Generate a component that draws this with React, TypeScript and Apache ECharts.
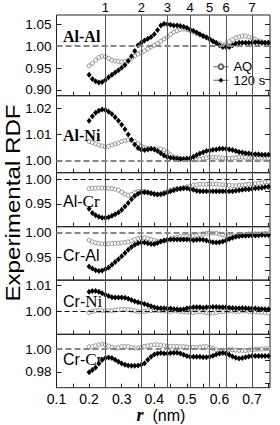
import React, { useEffect, useRef } from "react";
import * as echarts from "echarts";

// r values (nm)
const rNm = [
  0.20, 0.21, 0.22, 0.23, 0.24, 0.25, 0.26, 0.27, 0.28, 0.29,
  0.30, 0.31, 0.32, 0.33, 0.34, 0.35, 0.36, 0.37, 0.38, 0.39,
  0.40, 0.41, 0.42, 0.43, 0.44, 0.45, 0.46, 0.47, 0.48, 0.49,
  0.50, 0.51, 0.52, 0.53, 0.54, 0.55, 0.56, 0.57, 0.58, 0.59,
  0.60, 0.61, 0.62, 0.63, 0.64, 0.65, 0.66, 0.67, 0.68, 0.69,
  0.70, 0.71, 0.72, 0.73, 0.74, 0.75,
];

const alAlAQ = [
  0.955, 0.961, 0.968, 0.974, 0.977, 0.976, 0.972, 0.968, 0.966, 0.965,
  0.964, 0.965, 0.967, 0.972, 0.978, 0.982, 0.985, 0.989, 0.994, 0.998,
  1.002, 1.006, 1.011, 1.016, 1.021, 1.027, 1.032, 1.035, 1.038, 1.039,
  1.038, 1.035, 1.032, 1.029, 1.026, 1.023, 1.019, 1.015, 1.011, 1.008,
  1.005, 1.003, 1.005, 1.010, 1.015, 1.019, 1.021, 1.023, 1.023, 1.021,
  1.019, 1.015, 1.012, 1.010, 1.008, 1.008,
];
const alAl120 = [
  0.935, 0.925, 0.920, 0.917, 0.918, 0.923, 0.929, 0.935, 0.940, 0.945,
  0.951, 0.957, 0.966, 0.977, 0.989, 1.002, 1.008, 1.013, 1.017, 1.021,
  1.027, 1.037, 1.047, 1.051, 1.050, 1.049, 1.047, 1.047, 1.046, 1.044,
  1.042, 1.038, 1.035, 1.031, 1.027, 1.023, 1.020, 1.016, 1.011, 1.007,
  1.002, 0.998, 0.998, 0.998, 1.002, 1.006, 1.008, 1.008, 1.008, 1.008,
  1.008, 1.009, 1.009, 1.008, 1.008, 1.008,
];
const alNiAQ = [
  1.0073, 1.0069, 1.0065, 1.0060, 1.0056, 1.0053, 1.0055, 1.0060, 1.0064, 1.0067,
  1.0073, 1.0076, 1.0079, 1.0078, 1.0073, 1.0064, 1.0056, 1.0050, 1.0047, 1.0046,
  1.0045, 1.0045, 1.0045, 1.0041, 1.0032, 1.0022, 1.0014, 1.0010, 1.0008, 1.0006,
  1.0005, 1.0004, 1.0003, 1.0003, 1.0005, 1.0009, 1.0011, 1.0013, 1.0013, 1.0013,
  1.0011, 1.0010, 1.0009, 1.0009, 1.0010, 1.0011, 1.0013, 1.0013, 1.0013, 1.0011,
  1.0010, 1.0010, 1.0010, 1.0010, 1.0010, 1.0010,
];
const alNi120 = [
  1.0152, 1.0170, 1.0183, 1.0191, 1.0195, 1.0193, 1.0187, 1.0178, 1.0166, 1.0152,
  1.0137, 1.0120, 1.0100, 1.0080, 1.0062, 1.0048, 1.0042, 1.0041, 1.0043, 1.0045,
  1.0043, 1.0037, 1.0028, 1.0020, 1.0014, 1.0011, 1.0009, 1.0008, 1.0006, 1.0006,
  1.0008, 1.0009, 1.0015, 1.0022, 1.0027, 1.0032, 1.0037, 1.0039, 1.0042, 1.0043,
  1.0045, 1.0045, 1.0045, 1.0043, 1.0041, 1.0037, 1.0033, 1.0031, 1.0028, 1.0027,
  1.0025, 1.0024, 1.0024, 1.0023, 1.0023, 1.0023,
];
const alCrAQ = [
  0.981, 0.982, 0.982, 0.9825, 0.9825, 0.9825, 0.982, 0.981, 0.980, 0.978,
  0.974, 0.970, 0.9675, 0.969, 0.973, 0.9757, 0.976, 0.9757, 0.974, 0.972,
  0.970, 0.9695, 0.970, 0.973, 0.9757, 0.978, 0.980, 0.981, 0.982, 0.983,
  0.9845, 0.9865, 0.988, 0.989, 0.990, 0.990, 0.990, 0.9905, 0.9905, 0.9905,
  0.990, 0.989, 0.9885, 0.988, 0.987, 0.987, 0.988, 0.9885, 0.989, 0.990,
  0.9905, 0.991, 0.992, 0.993, 0.9945, 0.995,
];
const alCr120 = [
  0.9405, 0.932, 0.927, 0.924, 0.922, 0.922, 0.923, 0.926, 0.929, 0.933,
  0.9385, 0.945, 0.952, 0.9595, 0.966, 0.971, 0.9735, 0.974, 0.9735, 0.972,
  0.970, 0.969, 0.9695, 0.9715, 0.9735, 0.9757, 0.9777, 0.980, 0.981, 0.9818,
  0.9818, 0.980, 0.979, 0.977, 0.976, 0.976, 0.976, 0.976, 0.976, 0.976,
  0.976, 0.976, 0.976, 0.976, 0.976, 0.977, 0.978, 0.979, 0.980, 0.980,
  0.981, 0.982, 0.9825, 0.983, 0.9845, 0.985,
];
const crAlAQ = [
  0.9845, 0.981, 0.979, 0.978, 0.977, 0.977, 0.977, 0.978, 0.978, 0.9785,
  0.979, 0.980, 0.981, 0.983, 0.9857, 0.9876, 0.989, 0.989, 0.9876, 0.9857,
  0.984, 0.9825, 0.982, 0.9825, 0.9845, 0.987, 0.989, 0.990, 0.9915, 0.992,
  0.992, 0.992, 0.993, 0.994, 0.9955, 0.9967, 0.998, 0.9987, 0.9987, 0.998,
  0.9967, 0.9948, 0.993, 0.9915, 0.9915, 0.992, 0.9935, 0.9948, 0.996, 0.9967,
  0.9967, 0.9967, 0.9967, 0.9974, 0.998, 0.9987,
];
const crAl120 = [
  0.932, 0.928, 0.9245, 0.923, 0.924, 0.9265, 0.930, 0.9355, 0.941, 0.9465,
  0.9525, 0.959, 0.9655, 0.9707, 0.9753, 0.9785, 0.980, 0.980, 0.9785, 0.977,
  0.977, 0.979, 0.982, 0.984, 0.985, 0.9857, 0.9857, 0.9857, 0.9857, 0.9857,
  0.9857, 0.985, 0.9845, 0.985, 0.9857, 0.985, 0.984, 0.982, 0.9805, 0.980,
  0.9805, 0.982, 0.984, 0.9865, 0.989, 0.991, 0.992, 0.993, 0.993, 0.9935,
  0.9935, 0.9935, 0.994, 0.9948, 0.9948, 0.9948,
];
const crNiAQ = [
  0.9997, 1.0001, 1.0004, 1.0005, 1.0004, 1.0003, 1.0003, 1.0004, 1.0006, 1.0008,
  1.0009, 1.0009, 1.0008, 1.0006, 1.0004, 1.0001, 1.0000, 1.0001, 1.0003, 1.0004,
  1.0005, 1.0005, 1.0004, 1.0003, 1.0001, 1.0001, 1.0003, 1.0003, 1.0001, 1.0000,
  0.9999, 0.9997, 0.9997, 0.9999, 1.0000, 0.9999, 0.9996, 0.9994, 0.9995, 0.9997,
  1.0000, 1.0001, 1.0001, 1.0003, 1.0003, 1.0001, 1.0001, 1.0003, 1.0003, 1.0001,
  1.0000, 1.0000, 0.9999, 0.9997, 0.9996, 0.9996,
];
const crNi120 = [
  1.0077, 1.0080, 1.0080, 1.0077, 1.0071, 1.0065, 1.0060, 1.0056, 1.0055, 1.0055,
  1.0055, 1.0054, 1.0050, 1.0045, 1.0040, 1.0036, 1.0033, 1.0030, 1.0026, 1.0021,
  1.0017, 1.0014, 1.0013, 1.0013, 1.0012, 1.0012, 1.0010, 1.0009, 1.0008, 1.0009,
  1.0013, 1.0015, 1.0017, 1.0017, 1.0017, 1.0015, 1.0017, 1.0018, 1.0018, 1.0018,
  1.0017, 1.0017, 1.0017, 1.0015, 1.0014, 1.0013, 1.0013, 1.0014, 1.0013, 1.0012,
  1.0012, 1.0012, 1.0010, 1.0010, 1.0009, 1.0009,
];
const crCrAQ = [
  1.0021, 1.0021, 1.0029, 1.0038, 1.0044, 1.0038, 1.0026, 1.0015, 1.0009, 1.0012,
  1.0021, 1.0024, 1.0021, 1.0015, 1.0009, 1.0009, 1.0015, 1.0024, 1.0029, 1.0035,
  1.0038, 1.0038, 1.0035, 1.0029, 1.0026, 1.0024, 1.0024, 1.0024, 1.0021, 1.0021,
  1.0018, 1.0015, 1.0015, 1.0015, 1.0018, 1.0021, 1.0021, 1.0015, 1.0006, 0.9994,
  0.9988, 0.9985, 0.9988, 0.9994, 0.9994, 0.9991, 0.9988, 0.9988, 0.9988, 0.9991,
  0.9994, 0.9997, 1.0000, 1.0000, 1.0003, 1.0003,
];
const crCr120 = [
  0.9797, 0.9815, 0.9838, 0.9874, 0.9903, 0.9921, 0.9926, 0.9921, 0.9906, 0.9888,
  0.9874, 0.9862, 0.9856, 0.9853, 0.9853, 0.9856, 0.9862, 0.9876, 0.9906, 0.9932,
  0.9953, 0.9962, 0.9965, 0.9962, 0.9962, 0.9965, 0.9968, 0.9968, 0.9962, 0.9950,
  0.9938, 0.9932, 0.9932, 0.9932, 0.9932, 0.9929, 0.9929, 0.9932, 0.9941, 0.9953,
  0.9962, 0.9965, 0.9962, 0.9950, 0.9935, 0.9924, 0.9918, 0.9921, 0.9929, 0.9935,
  0.9938, 0.9938, 0.9938, 0.9938, 0.9938, 0.9938,
];

const seriesNames = ["AQ", "120 s"];
const panelNames = ["Al-Al", "Al-Ni", "Al-Cr", "Cr-Al", "Cr-Ni", "Cr-Cr"];
const panelAQ = [alAlAQ, alNiAQ, alCrAQ, crAlAQ, crNiAQ, crCrAQ];
const panel120 = [alAl120, alNi120, alCr120, crAl120, crNi120, crCr120];

// shell (neighbour) positions and their labels
const shellR = [0.254, 0.359, 0.436, 0.51, 0.571, 0.623, 0.703, 0.755];
const shellLabels = ["1", "2", "3", "4", "5", "6", "7", "NN"];

// axis ranges and tick values
const xMin = 0.1;
const xMax = 0.755;
const xLabelValues = [0.1, 0.2, 0.3, 0.4, 0.5, 0.6, 0.7];
const xTickValues = [0.1, 0.15, 0.2, 0.25, 0.3, 0.35, 0.4, 0.45, 0.5, 0.55, 0.6, 0.65, 0.7, 0.75];
const yMins = [0.887, 0.9954, 0.904, 0.9046, 0.9913, 0.966];
const yMaxs = [1.071, 1.0248, 1.0134, 1.0112, 1.0122, 1.013];
const yLabelValues = [
  [0.9, 0.95, 1.0, 1.05],
  [1.0, 1.01, 1.02],
  [0.95, 1.0],
  [0.95, 1.0],
  [1.0, 1.01],
  [0.98, 1.0],
];
const yRightTicks = [
  [0.9, 0.925, 0.95, 0.975, 1.0, 1.025, 1.05],
  [1.0, 1.01, 1.02],
  [0.925, 0.95, 0.975, 1.0],
  [0.925, 0.95, 0.975, 1.0],
  [0.995, 1.0, 1.005, 1.01],
  [0.97, 0.98, 0.99, 1.0, 1.01],
];
const refValue = 1.0;

// layout
const gridTops = [15, 95.7, 172.7, 226.7, 280, 334.3];
const gridHeights = [80.7, 77, 54, 53.6, 54.3, 53.4];
const labelYs = [37.5, 136.5, 201.7, 256.7, 301.7, 360];
const refDashStyles = [
  { color: "#888", width: 2, type: [6, 3] },
  { color: "#888", width: 2, type: [6, 3] },
  { color: "#111", width: 1, type: [5, 3] },
  { color: "#888", width: 2, type: [6, 3] },
  { color: "#111", width: 1, type: [5, 3] },
  { color: "#888", width: 2, type: [6, 3] },
];
const panelLabelRich = [
  "{b|Al-Al}",
  "{b|Al-Ni}",
  "{s|Al-}{t|Cr}",
  "{s|Cr-Al}",
  "{s|Cr-}{t|Ni}",
  "{s|Cr-}{t|Cr}",
];

const SANS = "'Liberation Sans', Arial, Helvetica, sans-serif";
const SERIF = "'Liberation Serif', 'Times New Roman', serif";

export default function App() {
  const ref = useRef<HTMLDivElement>(null);

  useEffect(() => {
    if (!ref.current) return;
    const chart = echarts.init(ref.current, undefined, { renderer: "svg" });

    const grids: any[] = [];
    const xAxes: any[] = [];
    const yAxes: any[] = [];
    const series: any[] = [];

    panelNames.forEach((name, i) => {
      grids.push({
        left: 56.5,
        right: 10,
        top: gridTops[i],
        height: gridHeights[i],
        show: true,
        borderColor: "#222",
        borderWidth: 1,
        backgroundColor: "transparent",
      });
      xAxes.push({
        gridIndex: i,
        type: "value",
        min: xMin,
        max: xMax,
        axisLine: { show: false },
        splitLine: { show: false },
        axisTick: {
          show: true,
          inside: true,
          length: 4,
          customValues: xTickValues,
          lineStyle: { color: "#222", width: 1 },
        },
        axisLabel:
          i === panelNames.length - 1
            ? {
                show: true,
                customValues: xLabelValues,
                formatter: (v: number) => v.toFixed(1),
                fontSize: 14,
                fontFamily: SANS,
                color: "#000",
                margin: 4,
              }
            : { show: false },
      });
      yAxes.push({
        gridIndex: i,
        type: "value",
        position: "left",
        min: yMins[i],
        max: yMaxs[i],
        axisLine: { show: false },
        splitLine: { show: false },
        axisTick: {
          show: true,
          inside: true,
          length: 5,
          customValues: yLabelValues[i],
          lineStyle: { color: "#222", width: 1 },
        },
        axisLabel: {
          show: true,
          customValues: yLabelValues[i],
          formatter: (v: number) => v.toFixed(2),
          fontSize: 13.5,
          fontFamily: SANS,
          color: "#000",
          margin: 5,
        },
      });
      yAxes.push({
        gridIndex: i,
        type: "value",
        position: "right",
        min: yMins[i],
        max: yMaxs[i],
        axisLine: { show: false },
        splitLine: { show: false },
        axisTick: {
          show: true,
          inside: true,
          length: 5,
          customValues: yRightTicks[i],
          lineStyle: { color: "#222", width: 1 },
        },
        axisLabel: { show: false },
      });

      const shellLines = shellR.map((v, k) => ({
        xAxis: v,
        lineStyle: { color: "#555", width: 1, type: "solid" },
        label: {
          show: i === 0,
          position: "end",
          formatter: shellLabels[k],
          fontSize: 13,
          fontFamily: SANS,
          color: "#000",
          distance: 1,
        },
      }));

      series.push({
        name: seriesNames[0],
        type: "line",
        xAxisIndex: i,
        yAxisIndex: 2 * i,
        data: rNm.map((x, k) => [x, panelAQ[i][k]]),
        symbol: "circle",
        symbolSize: 4,
        showSymbol: true,
        itemStyle: { color: "#fff", borderColor: "#666", borderWidth: 0.7 },
        lineStyle: { width: 0, opacity: 0 },
        silent: true,
        z: 3,
        markLine: {
          silent: true,
          symbol: ["none", "none"],
          animation: false,
          data: [
            ...shellLines,
            {
              yAxis: refValue,
              lineStyle: refDashStyles[i],
              label: { show: false },
            },
          ],
        },
      });
      series.push({
        name: seriesNames[1],
        type: "line",
        xAxisIndex: i,
        yAxisIndex: 2 * i,
        data: rNm.map((x, k) => [x, panel120[i][k]]),
        symbol: "diamond",
        symbolSize: [5, 6],
        showSymbol: true,
        itemStyle: { color: "#000", borderColor: "#000", borderWidth: 0 },
        lineStyle: { width: 0, opacity: 0 },
        silent: true,
        z: 4,
      });
    });

    const option: any = {
      animation: false,
      textStyle: { fontFamily: SANS },
      grid: grids,
      xAxis: xAxes,
      yAxis: yAxes,
      series,
      legend: {
        show: true,
        orient: "vertical",
        left: 213,
        top: 60,
        padding: 0,
        itemWidth: 15,
        itemHeight: 6,
        itemGap: 0,
        selectedMode: false,
        data: seriesNames,
        textStyle: { fontSize: 13, fontFamily: SANS, color: "#000", lineHeight: 13.5 },
        lineStyle: { width: 0.8, color: "#333", opacity: 1, type: "solid" },
      },
      graphic: [
        ...panelNames.map((n, i) => ({
          type: "text",
          left: 63,
          top: labelYs[i] - 9,
          z: 10,
          style: {
            text: panelLabelRich[i],
            rich: {
              b: { fontFamily: SERIF, fontWeight: "bold", fontSize: 16, fill: "#000" },
              s: { fontFamily: SANS, fontSize: 16, fill: "#000" },
              t: { fontFamily: SERIF, fontSize: 17, fill: "#000" },
            },
          },
        })),
        {
          type: "text",
          x: 13,
          y: 203,
          rotation: Math.PI / 2,
          scaleX: 1.15,
          style: {
            text: "Experimental RDF",
            fontFamily: SANS,
            fontSize: 21,
            fill: "#000",
            align: "center",
            verticalAlign: "middle",
          },
        },
        {
          type: "text",
          x: 161,
          y: 415,
          style: {
            text: "{i|r}{n|  (nm)}",
            align: "center",
            verticalAlign: "middle",
            rich: {
              i: { fontFamily: SERIF, fontStyle: "italic", fontWeight: "bold", fontSize: 18, fill: "#000", lineHeight: 18 },
              n: { fontFamily: SANS, fontSize: 16, fill: "#000", lineHeight: 18 },
            },
          },
        },
      ],
    };

    chart.setOption(option);
    return () => {
      chart.dispose();
    };
  }, []);

  return (
    <div
      ref={ref}
      style={{ position: "absolute", left: 0, top: 0, width: 280, height: 425, background: "#fff" }}
    />
  );
}
